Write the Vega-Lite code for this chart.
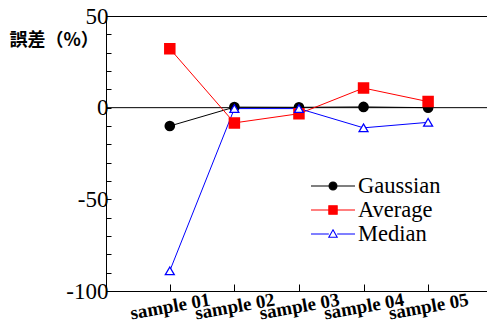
{
  "$schema": "https://vega.github.io/schema/vega-lite/v6.json",
  "autosize": "none",
  "padding": {"left": 106, "top": 16, "right": 0, "bottom": 45},
  "width": 381,
  "height": 275,
  "config": {
    "view": {"stroke": "black", "strokeWidth": 1},
    "font": "Liberation Serif"
  },
  "data": {
    "values": [
      {"sample": "sample 01", "method": "Gaussian", "error": -10},
      {"sample": "sample 02", "method": "Gaussian", "error": 0.3},
      {"sample": "sample 03", "method": "Gaussian", "error": 0.2},
      {"sample": "sample 04", "method": "Gaussian", "error": 0.4},
      {"sample": "sample 05", "method": "Gaussian", "error": 0},
      {"sample": "sample 01", "method": "Average", "error": 32.2},
      {"sample": "sample 02", "method": "Average", "error": -8.3},
      {"sample": "sample 03", "method": "Average", "error": -3.3},
      {"sample": "sample 04", "method": "Average", "error": 10.7},
      {"sample": "sample 05", "method": "Average", "error": 3.3},
      {"sample": "sample 01", "method": "Median", "error": -89},
      {"sample": "sample 02", "method": "Median", "error": -0.5},
      {"sample": "sample 03", "method": "Median", "error": -0.5},
      {"sample": "sample 04", "method": "Median", "error": -11},
      {"sample": "sample 05", "method": "Median", "error": -8}
    ]
  },
  "encoding": {
    "x": {
      "field": "sample", "type": "ordinal",
      "scale": {"type": "point", "padding": 0.95, "align": 0.52},
      "axis": {
        "title": null, "domainColor": "black", "tickColor": "black",
        "tickSize": -7, "labelAngle": -10, "labelFont": "Liberation Serif",
        "labelFontWeight": "bold", "labelFontSize": 19, "labelColor": "black",
        "labelPadding": 22, "labelAlign": "center", "labelBaseline": "middle"
      }
    },
    "y": {
      "field": "error", "type": "quantitative",
      "scale": {"domain": [-100, 50], "nice": false},
      "axis": {
        "values": [-100, -90, -80, -70, -60, -50, -40, -30, -20, -10, 0, 10, 20, 30, 40, 50],
        "labelExpr": "datum.value % 50 == 0 ? '' + datum.value : ''",
        "labelOverlap": false,
        "grid": false, "domainColor": "black", "tickColor": "black",
        "tickSize": -5, "labelFont": "Liberation Serif", "labelFontSize": 23,
        "labelColor": "black", "labelPadding": 3,
        "title": "誤差（%）", "titleAngle": 0, "titleFont": "Noto Sans CJK JP",
        "titleFontWeight": "bold", "titleFontSize": 18, "titleColor": "black",
        "titleAlign": "left", "titleBaseline": "middle", "titleX": -97, "titleY": 24
      }
    }
  },
  "layer": [
    {
      "mark": {"type": "rule", "color": "black", "strokeWidth": 1},
      "data": {"values": [{"zero": 0}]},
      "encoding": {"y": {"field": "zero", "type": "quantitative"}, "x": null}
    },
    {
      "mark": {"type": "line", "strokeWidth": 1},
      "encoding": {
        "color": {
          "field": "method", "type": "nominal",
          "scale": {"domain": ["Gaussian", "Average", "Median"], "range": ["black", "red", "blue"]},
          "legend": {
            "title": null, "orient": "none", "legendX": 215, "legendY": 158,
            "labelFont": "Liberation Serif", "labelFontSize": 22.5, "labelColor": "black",
            "symbolSize": 484, "rowPadding": -1, "labelOffset": 13, "symbolOffset": 0,
            "encode": {
              "symbols": {
                "update": {
                  "shape": {"signal": "datum.value == 'Gaussian' ? 'M-2,0H2M0.36,0A0.36,0.36 0 1 1 -0.36,0A0.36,0.36 0 1 1 0.36,0Z' : datum.value == 'Average' ? 'M-2,0H2M-0.38,-0.38H0.38V0.38H-0.38Z' : 'M-2,0H-0.38M0.38,0H2M0,-0.38L0.38,0.3H-0.38Z'"},
                  "fill": {"signal": "datum.value == 'Gaussian' ? 'black' : datum.value == 'Average' ? 'red' : 'white'"},
                  "stroke": {"signal": "datum.value == 'Gaussian' ? 'black' : datum.value == 'Average' ? 'red' : 'blue'"},
                  "strokeWidth": {"value": 1.1},
                  "opacity": {"value": 1},
                  "fillOpacity": {"value": 1}
                }
              }
            }
          }
        }
      }
    },
    {
      "transform": [{"filter": "datum.method == 'Gaussian'"}],
      "mark": {"type": "point", "shape": "circle", "filled": true, "fill": "black", "stroke": "black", "opacity": 1, "size": 75}
    },
    {
      "transform": [{"filter": "datum.method == 'Average'"}],
      "mark": {"type": "point", "shape": "square", "filled": true, "fill": "red", "stroke": "red", "opacity": 1, "size": 90}
    },
    {
      "transform": [{"filter": "datum.method == 'Median'"}],
      "mark": {"type": "point", "shape": "triangle-up", "filled": false, "fill": "white", "fillOpacity": 1, "stroke": "blue", "strokeWidth": 1.3, "opacity": 1, "size": 80}
    }
  ]
}
